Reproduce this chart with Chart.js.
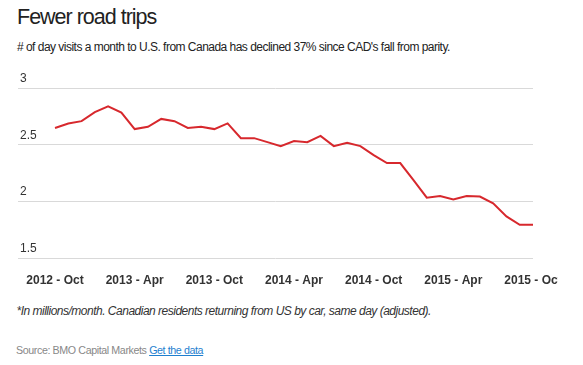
<!DOCTYPE html>
<html>
<head>
<meta charset="utf-8">
<script src="https://cdn.jsdelivr.net/npm/chart.js@4"></script>
<style>
  html, body { margin: 0; padding: 0; background: #fff; }
  body { width: 583px; height: 365px; position: relative; overflow: hidden; font-family: Arial, "Liberation Sans", sans-serif; }
  .t { position: absolute; left: 17px; white-space: nowrap; }
  #title { top: 4px; font-size: 21.5px; line-height: 26px; color: #222; letter-spacing: -1px; }
  #sub { top: 39.5px; font-size: 12px; line-height: 14px; color: #222; letter-spacing: -0.52px; }
  #note { top: 304px; font-size: 12px; line-height: 14px; color: #333; font-style: italic; letter-spacing: -0.5px; left: 16.5px; }
  #src { top: 342.5px; font-size: 10.7px; line-height: 14px; color: #888; letter-spacing: -0.4px; left: 16px; }
  #src a { color: #1f7fcf; text-decoration: underline; }
  #clip { position: absolute; left: 0; top: 60px; width: 558px; height: 240px; overflow: hidden; }
  #inner { width: 583px; height: 240px; }
</style>
</head>
<body>
<div id="title" class="t">Fewer road trips</div>
<div id="sub" class="t"># of day visits a month to U.S. from Canada has declined 37% since CAD's fall from parity.</div>
<div id="clip"><div id="inner"><canvas id="c" width="583" height="240" style="width:583px;height:240px"></canvas></div></div>
<div id="note" class="t">*In millions/month. Canadian residents returning from US by car, same day (adjusted).</div>
<div id="src" class="t">Source: BMO Capital Markets <a href="#">Get the data</a></div>
<script>
// Monthly categories, 2012-Oct .. 2015-Oct
const months = [
  "2012 - Oct","2012 - Nov","2012 - Dec",
  "2013 - Jan","2013 - Feb","2013 - Mar","2013 - Apr","2013 - May","2013 - Jun",
  "2013 - Jul","2013 - Aug","2013 - Sep","2013 - Oct","2013 - Nov","2013 - Dec",
  "2014 - Jan","2014 - Feb","2014 - Mar","2014 - Apr","2014 - May","2014 - Jun",
  "2014 - Jul","2014 - Aug","2014 - Sep","2014 - Oct","2014 - Nov","2014 - Dec",
  "2015 - Jan","2015 - Feb","2015 - Mar","2015 - Apr","2015 - May","2015 - Jun",
  "2015 - Jul","2015 - Aug","2015 - Sep","2015 - Oct"
];
// Same-day car trips, millions/month
const dayVisits = [
  2.65, 2.69, 2.71, 2.79, 2.84, 2.785, 2.64, 2.66, 2.73, 2.71, 2.65, 2.66,
  2.64, 2.69, 2.56, 2.56, 2.525, 2.49, 2.535, 2.525, 2.58, 2.49, 2.52, 2.49,
  2.41, 2.34, 2.34, 2.19, 2.035, 2.05, 2.02, 2.05, 2.045, 1.985, 1.87, 1.795, 1.795
];
// x-axis tick labels (every 6 months)
const xTickLabels = ["2012 - Oct","2013 - Apr","2013 - Oct","2014 - Apr","2014 - Oct","2015 - Apr","2015 - Oct"];
// y-axis ticks
const yTicks = [1.5, 2, 2.5, 3];

const tickIdx = xTickLabels.map(l => months.indexOf(l));
const points = dayVisits.map((v, i) => ({ x: i, y: v }));

new Chart(document.getElementById('c'), {
  type: 'line',
  data: {
    datasets: [{
      data: points,
      borderColor: '#d7282d',
      borderWidth: 2,
      pointRadius: 0,
      pointHoverRadius: 0,
      tension: 0,
      fill: false
    }]
  },
  options: {
    responsive: false,
    animation: false,
    events: [],
    layout: { padding: { top: 28.3, left: 18, right: 50, bottom: 0 } },
    plugins: { legend: { display: false }, tooltip: { enabled: false }, title: { display: false } },
    scales: {
      x: {
        type: 'linear',
        min: -2.787,
        max: months.length - 1,
        grid: { display: false },
        border: { display: false },
        afterBuildTicks: axis => { axis.ticks = tickIdx.map(v => ({ value: v })); },
        afterFit: axis => { axis.height = 41.7; },
        ticks: {
          autoSkip: false,
          maxRotation: 0,
          padding: 7.5,
          color: '#333',
          font: { family: 'Arial, "Liberation Sans", sans-serif', size: 12, weight: 'bold' },
          callback: v => months[v]
        }
      },
      y: {
        min: yTicks[0],
        max: yTicks[yTicks.length - 1],
        afterBuildTicks: axis => { axis.ticks = yTicks.map(v => ({ value: v })); },
        afterFit: axis => { axis.width = 0; },
        grid: { color: '#d9d9d9', lineWidth: 1, drawTicks: false },
        border: { display: false },
        ticks: {
          mirror: true,
          padding: 2,
          labelOffset: -9.5,
          color: '#333',
          font: { family: 'Arial, "Liberation Sans", sans-serif', size: 12 },
          callback: v => String(v)
        }
      }
    }
  }
});
</script>
</body>
</html>
